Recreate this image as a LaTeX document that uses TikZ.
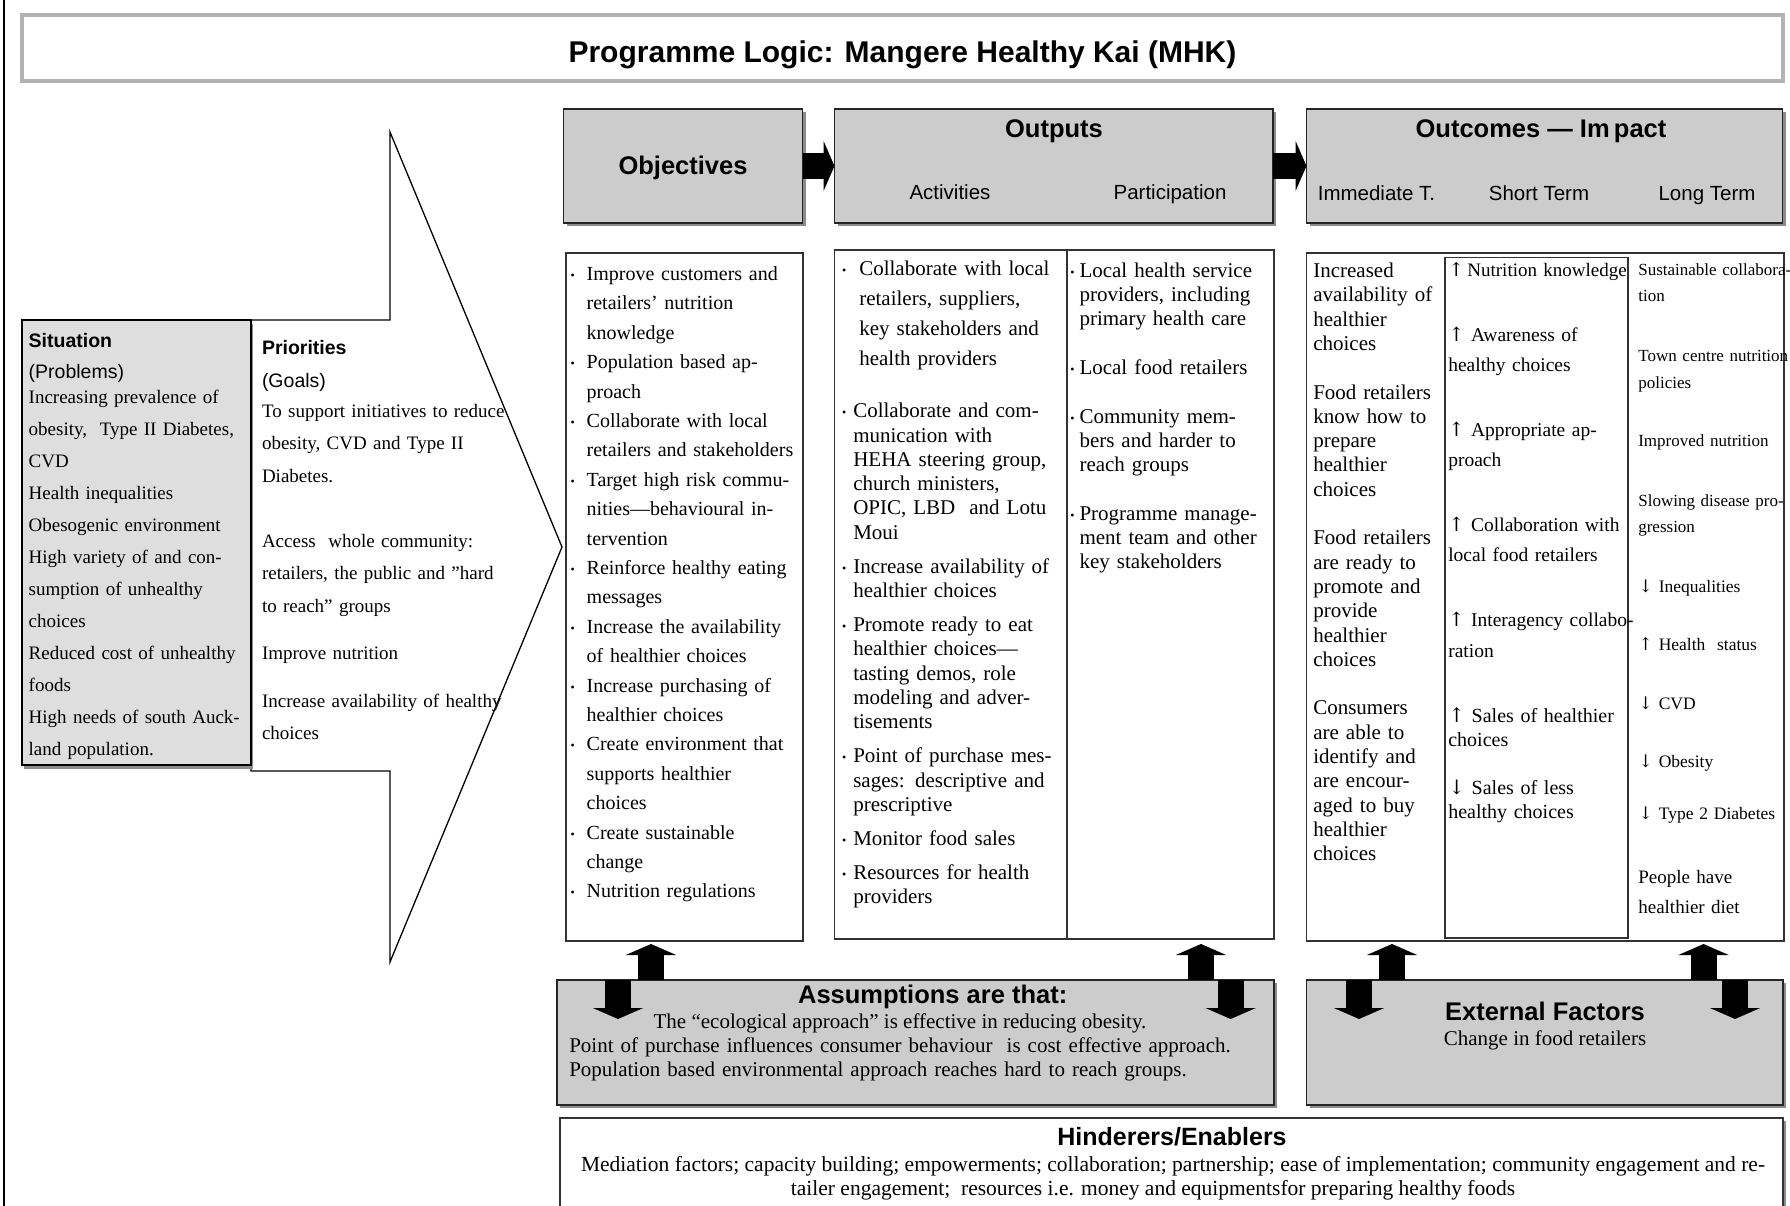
\documentclass[tikz,border=0pt]{standalone}
\usepackage{fontspec}
\setmainfont{Liberation Serif}
\newfontfamily\arial{Liberation Sans}
\newfontfamily\symf{DejaVu Serif}
\usetikzlibrary{arrows.meta,shadows}
\newcommand\fsz[2]{\fontsize{#1pt}{#2pt}\selectfont}
\newcommand\uarr{{\symf ↑}}
\newcommand\darr{{\symf ↓}}
\newcommand\bul[1]{\leavevmode\llap{{\fsz{12}{12}\raisebox{1pt}{•}}\hspace{#1}}}
\definecolor{hdrgray}{gray}{0.80}
\definecolor{sitgray}{gray}{0.87}
\definecolor{shad}{gray}{0.55}
\begin{document}
\begin{tikzpicture}[x=1pt,y=-1pt,
  every node/.style={inner sep=0pt,outer sep=0pt},
  hdr/.style={draw=black!85,line width=1.3pt,fill=hdrgray,anchor=north west,
    drop shadow={shadow xshift=3pt,shadow yshift=-3pt,fill=shad,opacity=1}},
  cbox/.style={draw=black!80,line width=1.3pt,fill=white,anchor=north west},
  blk/.style={line width=26pt,draw=black,-{Triangle[length=11pt,width=50pt]}},
  tx/.style={anchor=base west,text width=800pt,align=left},
  ctr/.style={anchor=base},
  hsans/.style={font=\arial\bfseries\fsz{25.5}{30}},
  sub/.style={font=\arial\fsz{20.5}{24}},
]
\useasboundingbox (0,0) rectangle (1790,1206);
\clip (0,0) rectangle (1790,1206);
\fill[white] (0,0) rectangle (1790,1206);
\draw[line width=1.2pt] (4,0) -- (4,1206);

% title
\node[draw=gray!60,line width=3.5pt,minimum width=1761pt,minimum height=66pt,anchor=north west] (ttlbox) at (22,15) {};
\node[ctr,font=\arial\bfseries\fsz{30}{36}] (ttl) at (902.5,63) {Programme Logic: Mangere Healthy Kai (MHK)};

% big arrow (situation / priorities)
\draw[line width=1.3pt,fill=white] (251,320) -- (390,320) -- (390,132) -- (562,547) -- (390,962) -- (390,771) -- (251,771) -- cycle;
\node[draw=black,line width=2pt,fill=sitgray,anchor=north west,minimum width=229pt,minimum height=445pt,
  drop shadow={shadow xshift=2pt,shadow yshift=-4pt,fill=shad,opacity=1}] (sit) at (22,320) {};

\node[tx,font=\arial\bfseries\fsz{19.5}{24}] (sitt) at (28.7,347.7) {Situation};
\node[tx,font=\arial\fsz{19.5}{24}] (sitp) at (28.7,378) {(Problems)};
\node[tx,font=\fsz{19}{32}] (sitx) at (28.7,403.5) {Increasing prevalence of\\ obesity,~ Type II Diabetes,\\ CVD\\ Health inequalities\\ Obesogenic environment\\ High variety of and con-\\ sumption of unhealthy\\ choices\\ Reduced cost of unhealthy\\ foods\\ High needs of south Auck-\\ land population.};

\node[tx,font=\arial\bfseries\fsz{19.5}{24}] (prit) at (262,354) {Priorities};
\node[tx,font=\arial\fsz{19.5}{24}] (prig) at (262,387) {(Goals)};
\node[tx,font=\fsz{19}{32.5}] (prix) at (262,417) {To support initiatives to reduce\\ obesity, CVD and Type II\\ Diabetes.\\[32.5pt] Access~ whole community:\\ retailers, the public and "hard\\ to reach" groups\\[15pt] Improve nutrition\\[15pt] Increase availability of healthy\\ choices};

% header boxes
\node[hdr,minimum width=239pt,minimum height=114pt] (objh) at (563.5,109) {};
\node[hdr,minimum width=438.5pt,minimum height=114pt] (outh) at (834.5,109) {};
\node[hdr,minimum width=476pt,minimum height=114pt] (ocmh) at (1306.5,109) {};
\draw[blk] (objh.east) -- (outh.west);
\draw[blk] (outh.east) -- (ocmh.west);

\node[ctr,hsans] (objt) at (683,175) {Objectives};
\node[ctr,hsans] (outt) at (1054,138) {Outputs};
\node[ctr,sub] (actt) at (950,200) {Activities};
\node[ctr,sub] (part) at (1170,200) {Participation};
\node[ctr,hsans] (ocmt) at (1541,138) {Outcomes — Im\,pact};
\node[ctr,sub] (immt) at (1376.5,200.5) {Immediate T.};
\node[ctr,sub] (shtt) at (1539,200.5) {Short Term};
\node[ctr,sub] (lngt) at (1707,200.5) {Long Term};

% content boxes
\node[cbox,minimum width=237pt,minimum height=688pt] (objc) at (566,253) {};
\node[cbox,minimum width=439.5pt,minimum height=689pt] (outc) at (834.5,250) {};
\draw[line width=1.3pt,black!80] ([xshift=232.5pt]outc.north west) -- ([xshift=232.5pt]outc.south west);
\node[cbox,minimum width=477.5pt,minimum height=688pt] (ocmc) at (1306.5,253) {};
\node[cbox,minimum width=183pt,minimum height=680.5pt] (stbox) at (1445,257.5) {};

% objectives
\node[tx,font=\fsz{20}{29.4}] (objx) at (586.7,280.5) {\bul{12pt}Improve customers and\\ retailers’ nutrition\\ knowledge\\ \bul{12pt}Population based ap-\\ proach\\ \bul{12pt}Collaborate with local\\ retailers and stakeholders\\ \bul{12pt}Target high risk commu-\\ nities—behavioural in-\\ tervention\\ \bul{12pt}Reinforce healthy eating\\ messages\\ \bul{12pt}Increase the availability\\ of healthier choices\\ \bul{12pt}Increase purchasing of\\ healthier choices\\ \bul{12pt}Create environment that\\ supports healthier\\ choices\\ \bul{12pt}Create sustainable\\ change\\ \bul{12pt}Nutrition regulations};

% activities
\node[tx,font=\fsz{21}{30}] (act1) at (859.3,275.5) {\bul{13pt}Collaborate with local\\ retailers, suppliers,\\ key stakeholders and\\ health providers};
\node[tx,font=\fsz{21}{24.3}] (act2) at (853.3,417.7) {\bul{7pt}Collaborate and com-\\ munication with\\ HEHA steering group,\\ church ministers,\\ OPIC, LBD~ and Lotu\\ Moui\\[9.7pt]
\bul{7pt}Increase availability of\\ healthier choices\\[9.7pt]
\bul{7pt}Promote ready to eat\\ healthier choices—\\ tasting demos, role\\ modeling and adver-\\ tisements\\[9.7pt]
\bul{7pt}Point of purchase mes-\\ sages: descriptive and\\ prescriptive\\[9.7pt]
\bul{7pt}Monitor food sales\\[9.7pt]
\bul{7pt}Resources for health\\ providers};

% participation
\node[tx,font=\fsz{21}{24.2}] (parx) at (1079.5,277.5) {\bul{5pt}Local health service\\ providers, including\\ primary health care\\[24.5pt]
\bul{5pt}Local food retailers\\[24.5pt]
\bul{5pt}Community mem-\\ bers and harder to\\ reach groups\\[24.5pt]
\bul{5pt}Programme manage-\\ ment team and other\\ key stakeholders};

% immediate
\node[tx,font=\fsz{21}{24.3}] (immx) at (1313.3,277.5) {Increased\\ availability of\\ healthier\\ choices\\[24.3pt]
Food retailers\\ know how to\\ prepare\\ healthier\\ choices\\[24.3pt]
Food retailers\\ are ready to\\ promote and\\ provide\\ healthier\\ choices\\[24.3pt]
Consumers\\ are able to\\ identify and\\ are encour-\\ aged to buy\\ healthier\\ choices};

% short term
\node[tx,font=\fsz{19}{30}] (st1) at (1448.3,276.7) {\uarr\,Nutrition knowledge};
\node[tx,font=\fsz{19.5}{30}] (st2) at (1448.3,341) {\uarr\ Awareness of\\ healthy choices};
\node[tx,font=\fsz{19.5}{30}] (st3) at (1448.3,436) {\uarr\ Appropriate ap-\\ proach};
\node[tx,font=\fsz{19.5}{30.3}] (st4) at (1448.3,531.1) {\uarr\ Collaboration with\\ local food retailers};
\node[tx,font=\fsz{19.5}{30.8}] (st5) at (1448.3,626.5) {\uarr\ Interagency collabo-\\ ration};
\node[tx,font=\fsz{20}{24}] (st6) at (1448.3,722.1) {\uarr\ Sales of healthier\\ choices};
\node[tx,font=\fsz{20}{24.4}] (st7) at (1448.3,794.1) {\darr\ Sales of less\\ healthy choices};

% long term
\node[tx,font=\fsz{17}{26.2}] (lt1) at (1638.3,275.7) {Sustainable collabora-\\ tion};
\node[tx,font=\fsz{17}{26.7}] (lt2) at (1638.3,361.5) {Town centre nutrition\\ policies};
\node[tx,font=\fsz{17}{26}] (lt3) at (1638.3,446.5) {Improved nutrition};
\node[tx,font=\fsz{17}{26.6}] (lt4) at (1638.3,506.2) {Slowing disease pro-\\ gression};
\node[tx,font=\fsz{17.5}{26}] (lt5) at (1638.3,592.5) {\darr\ Inequalities};
\node[tx,font=\fsz{17.5}{26}] (lt6) at (1638.3,650.8) {\uarr\ Health~ status};
\node[tx,font=\fsz{17.5}{26}] (lt7) at (1638.3,709.5) {\darr\ CVD};
\node[tx,font=\fsz{17.5}{26}] (lt8) at (1638.3,767.9) {\darr\ Obesity};
\node[tx,font=\fsz{17.5}{26}] (lt9) at (1638.3,819.8) {\darr\ Type 2 Diabetes};
\node[tx,font=\fsz{19}{29.8}] (lt10) at (1638.3,883.5) {People have\\ healthier diet};

% bottom boxes
\node[hdr,minimum width=717pt,minimum height=125pt] (asm) at (557,980) {};
\node[hdr,minimum width=476.5pt,minimum height=125pt] (ext) at (1306.5,980) {};
\node[cbox,minimum width=1223pt,minimum height=110pt,
  drop shadow={shadow xshift=3pt,shadow yshift=-3pt,fill=shad,opacity=1}] (hin) at (560,1118) {};

% block arrows
\draw[blk] ([xshift=94pt]asm.north west) -- ([xshift=85pt,yshift=-3pt]objc.south west);
\coordinate (d1) at ([xshift=61pt,yshift=-39pt]asm.north west);
\draw[blk] ([xshift=61pt]asm.north west) -- (d1);
\draw[blk] ([xshift=644pt]asm.north west) -- ([xshift=366.5pt,yshift=-5pt]outc.south west);
\coordinate (d2) at ([xshift=673.6pt,yshift=-39pt]asm.north west);
\draw[blk] ([xshift=673.6pt]asm.north west) -- (d2);
\draw[blk] ([xshift=85.5pt]ext.north west) -- ([xshift=85.5pt,yshift=-3pt]ocmc.south west);
\coordinate (d3) at ([xshift=52.5pt,yshift=-39pt]ext.north west);
\draw[blk] ([xshift=52.5pt]ext.north west) -- (d3);
\draw[blk] ([xshift=397pt]ext.north west) -- ([xshift=397pt,yshift=-3pt]ocmc.south west);
\coordinate (d4) at ([xshift=428.5pt,yshift=-39pt]ext.north west);
\draw[blk] ([xshift=428.5pt]ext.north west) -- (d4);

% bottom texts
\node[ctr,hsans] (asmt) at (932.7,1003) {Assumptions are that:};
\node[ctr,font=\fsz{21}{24}] (asm1) at (900,1028) {The ``ecological approach'' is effective in reducing obesity.};
\node[tx,font=\fsz{21}{24}] (asm2) at (569.3,1052.7) {Point of purchase influences consumer behaviour~ is cost effective approach.};
\node[tx,font=\fsz{21}{24}] (asm3) at (569.3,1076.5) {Population based environmental approach reaches hard to reach groups.};

\node[ctr,hsans] (extt) at (1545,1020.7) {External Factors};
\node[ctr,font=\fsz{21}{24}] (ext1) at (1545,1045) {Change in food retailers};

\node[ctr,font=\arial\bfseries\fsz{25}{28}] (hint) at (1172,1145) {Hinderers/Enablers};
\node[ctr,font=\fsz{21.5}{24}] (hin1) at (1173,1171) {Mediation factors; capacity building; empowerments; collaboration; partnership; ease of implementation; community engagement and re-};
\node[ctr,font=\fsz{21.5}{24}] (hin2) at (1153,1195) {tailer engagement;~ resources i.e. money and equipmentsfor preparing healthy foods};
\end{tikzpicture}
\end{document}
